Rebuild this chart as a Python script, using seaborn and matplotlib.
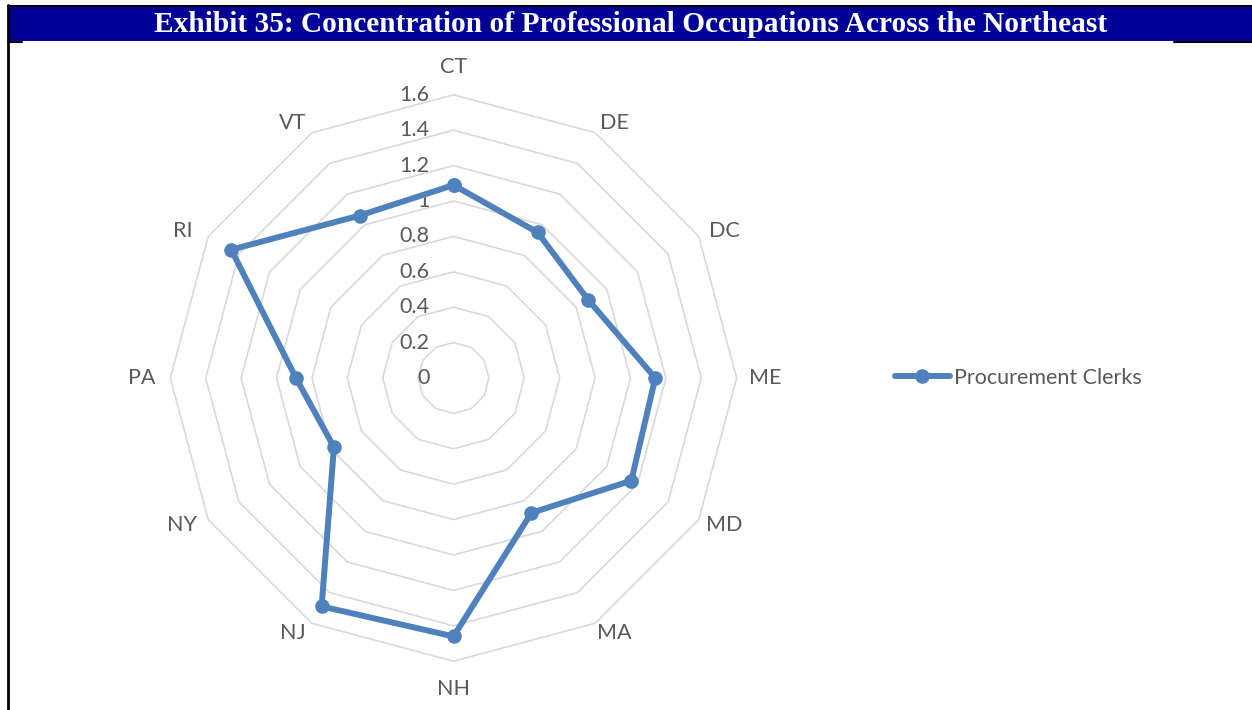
import numpy as np
import pandas as pd
import matplotlib
matplotlib.use("Agg")
import matplotlib.pyplot as plt
import seaborn as sns
from matplotlib.patches import Rectangle
from matplotlib.lines import Line2D

# ---- data ----
categories = ["CT", "DE", "DC", "ME", "MD", "MA", "NH", "NJ", "NY", "PA", "RI", "VT"]
values = [1.09, 0.95, 0.88, 1.14, 1.16, 0.88, 1.46, 1.49, 0.78, 0.89, 1.45, 1.06]
ticks = [0, 0.2, 0.4, 0.6, 0.8, 1.0, 1.2, 1.4, 1.6]
tick_labels = ["0", "0.2", "0.4", "0.6", "0.8", "1", "1.2", "1.4", "1.6"]
series_name = "Procurement Clerks"
title = "Exhibit 35: Concentration of Professional Occupations Across the Northeast"

sns.set_theme(style="white")
plt.rcParams["font.family"] = ["Lato", "DejaVu Sans"]

W, H = 1252, 710
fig = plt.figure(figsize=(W / 100, H / 100), dpi=100)
fig.patch.set_facecolor("white")
ax = fig.add_axes([0, 0, 1, 1])
cx, cy = 453.5, 332.0   # centre in pixels (from left / bottom)
scale = 177.0           # pixels per value unit
ax.set_xlim(-cx / scale, (W - cx) / scale)
ax.set_ylim(-cy / scale, (H - cy) / scale)
ax.axis("off")

n = len(categories)
ang = np.arange(n) * 2 * np.pi / n
ang_closed = np.r_[ang, ang[0]]

grid_color = "#D9D9D9"
text_color = "#595959"
line_color = "#4F81BD"
fs = 15.5

# polygon gridlines
for t in ticks[1:]:
    ax.plot(t * np.sin(ang_closed), t * np.cos(ang_closed), color=grid_color, lw=1.2, zorder=1)

# radial tick labels
for t, lab in zip(ticks, tick_labels):
    ax.text(-0.135, t, lab, ha="right", va="center", fontsize=fs, color=text_color, zorder=3)

# category label placement (pixel radii along x / y, mimicking Excel layout)
lab_rx = [311, 321, 313, 311.5]
lab_ry = [311, 294, 294, 294]
for i, (a, c) in enumerate(zip(ang, categories)):
    k = min(i % 6, 6 - i % 6)
    ax.text(lab_rx[k] / scale * np.sin(a), lab_ry[k] / scale * np.cos(a), c,
            ha="center", va="center", fontsize=fs, color=text_color, zorder=3)

# series
vals_closed = np.r_[values, values[0]]
df = pd.DataFrame({
    "x": vals_closed * np.sin(ang_closed),
    "y": vals_closed * np.cos(ang_closed),
})
sns.lineplot(data=df, x="x", y="y", sort=False, estimator=None, ax=ax,
             color=line_color, lw=4.3, marker="o", markersize=10.5,
             markeredgewidth=0, label=series_name, zorder=4)
ax.set_xlim(-cx / scale, (W - cx) / scale)
ax.set_ylim(-cy / scale, (H - cy) / scale)
ax.axis("off")

leg = ax.legend(loc="center left", bbox_to_anchor=(895 / W, 1 - 378 / H),
                bbox_transform=fig.transFigure, frameon=False, fontsize=fs,
                handlelength=2.55, handletextpad=0.2, borderaxespad=0, borderpad=0)
for txt in leg.get_texts():
    txt.set_color(text_color)

# title bar
fig.add_artist(Rectangle((9 / W, 1 - 41 / H), (W - 9) / W, 35 / H,
                         transform=fig.transFigure, facecolor="#000099",
                         edgecolor="none", zorder=10))
fig.add_artist(Line2D([8 / W, 1], [1 - 5.5 / H, 1 - 5.5 / H], transform=fig.transFigure,
                      color="black", lw=1.5, zorder=11))
fig.add_artist(Line2D([8 / W, 8 / W], [0, 1 - 5 / H], transform=fig.transFigure,
                      color="black", lw=2, zorder=11))
fig.add_artist(Line2D([8 / W, 22 / W], [1 - 42 / H, 1 - 42 / H], transform=fig.transFigure,
                      color="black", lw=1.5, zorder=11))
fig.add_artist(Line2D([1174 / W, 1], [1 - 42 / H, 1 - 42 / H], transform=fig.transFigure,
                      color="black", lw=1.5, zorder=11))
fig.text(631 / W, 1 - 25 / H, title, ha="center", va="center", color="white",
         fontsize=21.2, fontweight="bold", family=["Liberation Serif", "DejaVu Serif"], zorder=12)

fig.savefig("out.png", dpi=100, facecolor="white")
